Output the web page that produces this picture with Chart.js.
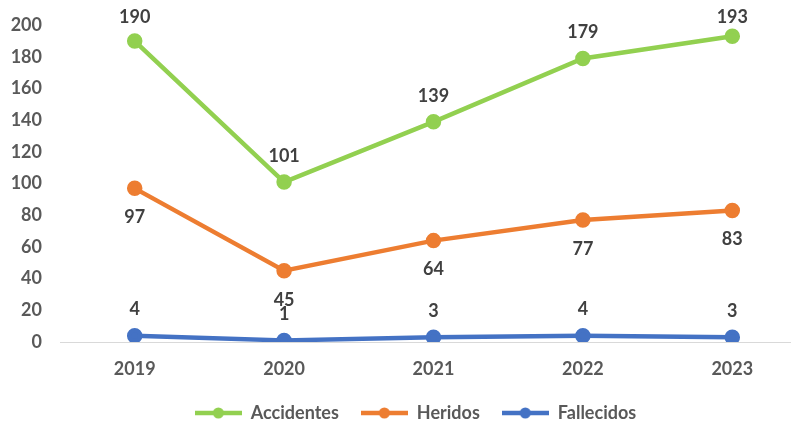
<!DOCTYPE html>
<html>
<head>
<meta charset="utf-8">
<script src="https://cdn.jsdelivr.net/npm/chart.js@4.4.1/dist/chart.umd.min.js"></script>
<style>
  html, body { margin: 0; padding: 0; background: #fff; overflow: hidden; }
</style>
</head>
<body>
<canvas id="lineChart" width="817" height="426"></canvas>
<script>
    // data
    const years = ['2019', '2020', '2021', '2022', '2023'];
    const accidentes = [190, 101, 139, 179, 193];
    const heridos = [97, 45, 64, 77, 83];
    const fallecidos = [4, 1, 3, 4, 3];
    const yTicks = [0, 20, 40, 60, 80, 100, 120, 140, 160, 180, 200];

    const GREEN = '#92d050', ORANGE = '#ed7d31', BLUE = '#4472c4';
    const FONT = 'Lato, "Open Sans", sans-serif';

    // little line + dot picture for the legend
    function legendMark(color) {
        const c = document.createElement('canvas');
        c.width = 47; c.height = 12;
        const g = c.getContext('2d');
        g.strokeStyle = color; g.lineWidth = 4.5;
        g.beginPath(); g.moveTo(0, 6); g.lineTo(47, 6); g.stroke();
        g.fillStyle = color;
        g.beginPath(); g.arc(23.5, 6, 5.5, 0, Math.PI * 2); g.fill();
        return c;
    }

    // value labels: above for Accidentes/Fallecidos, below for Heridos
    const labelOffsets = [-26, 29, -26];
    const valueLabels = {
        id: 'valueLabels',
        afterDatasetsDraw(chart) {
            const ctx = chart.ctx;
            ctx.save();
            ctx.font = 'bold 18px ' + FONT;
            ctx.fillStyle = '#404040';
            ctx.textAlign = 'center';
            ctx.textBaseline = 'middle';
            chart.data.datasets.forEach((ds, i) => {
                chart.getDatasetMeta(i).data.forEach((pt, j) => {
                    const y = Math.max(pt.y + labelOffsets[i], 17);
                    ctx.fillText(String(ds.data[j]), pt.x, y);
                });
            });
            ctx.restore();
        }
    };

    // nudge the legend to where Excel put it
    const legendShift = {
        id: 'legendShift',
        afterLayout(chart) {
            const lg = chart.legend;
            lg.left += 7; lg.right += 7;
            lg.top += 6; lg.bottom += 6;
        }
    };

    const lineChartCtx = document.getElementById('lineChart').getContext('2d');
    new Chart(lineChartCtx, {
        type: 'line',
        data: {
            labels: years,
            datasets: [{
                label: 'Accidentes',
                data: accidentes,
                borderColor: GREEN,
                backgroundColor: GREEN,
                borderWidth: 4.5,
                pointRadius: 5.5,
                tension: 0
            }, {
                label: 'Heridos',
                data: heridos,
                borderColor: ORANGE,
                backgroundColor: ORANGE,
                borderWidth: 4.5,
                pointRadius: 5.5,
                tension: 0
            }, {
                label: 'Fallecidos',
                data: fallecidos,
                borderColor: BLUE,
                backgroundColor: BLUE,
                borderWidth: 4.5,
                pointRadius: 5.5,
                tension: 0
            }]
        },
        options: {
            responsive: false,
            animation: false,
            layout: { padding: 0 },
            plugins: {
                tooltip: { enabled: false },
                legend: {
                    position: 'bottom',
                    labels: {
                        usePointStyle: true,
                        pointStyleWidth: 47,
                        padding: 22,
                        color: '#595959',
                        font: { family: FONT, size: 18, weight: 'bold' },
                        generateLabels(chart) {
                            const items = Chart.defaults.plugins.legend.labels.generateLabels(chart);
                            const cols = [GREEN, ORANGE, BLUE];
                            items.forEach((it, i) => { it.pointStyle = legendMark(cols[i]); });
                            return items;
                        }
                    }
                }
            },
            scales: {
                x: {
                    offset: true,
                    grid: { display: false, drawTicks: false },
                    border: { display: true, color: '#d9d9d9', width: 1 },
                    ticks: { color: '#595959', padding: 16, font: { family: FONT, size: 18, weight: 'bold' } },
                    afterFit(scale) { scale.height = 34; }
                },
                y: {
                    min: 0,
                    max: 200,
                    grid: { display: false, drawTicks: false },
                    border: { display: false },
                    afterBuildTicks(scale) { scale.ticks = yTicks.map(v => ({ value: v })); },
                    ticks: { color: '#595959', padding: 18, font: { family: FONT, size: 18, weight: 'bold', lineHeight: 0.8 } },
                    afterFit(scale) { scale.width = 60; }
                }
            }
        },
        plugins: [valueLabels, legendShift]
    });
</script>
</body>
</html>
